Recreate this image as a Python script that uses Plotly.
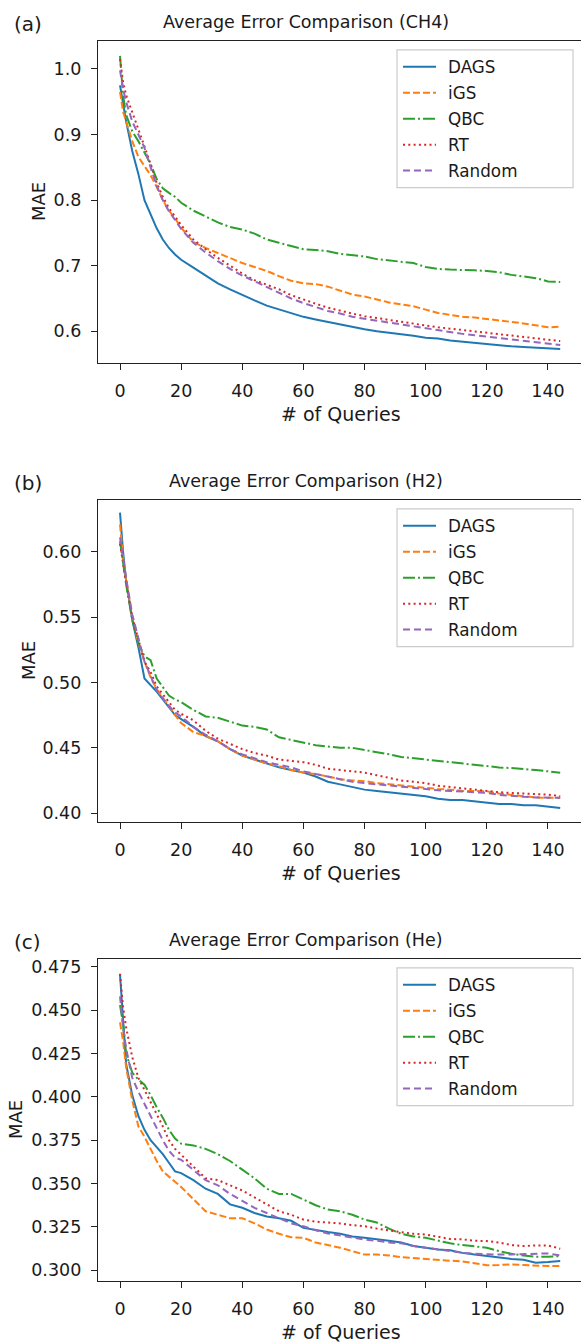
import plotly.graph_objects as go

# Query counts at which the average error was recorded
queries = [0, 1, 2, 4, 6, 8, 10, 12, 14, 16, 18, 20, 24, 28, 32, 36, 40, 44, 48, 52,
           56, 60, 64, 68, 72, 76, 80, 84, 88, 92, 96, 100, 104, 108, 112, 116, 120,
           124, 128, 132, 136, 140, 144]

methods = ["DAGS", "iGS", "QBC", "RT", "Random"]

# ---- CH4 ----
ch4_dags = [0.975, 0.945, 0.920, 0.875, 0.840, 0.800, 0.778, 0.757, 0.740, 0.727, 0.717,
            0.709, 0.697, 0.685, 0.673, 0.664, 0.655, 0.647, 0.639, 0.633, 0.627, 0.622,
            0.618, 0.614, 0.610, 0.607, 0.603, 0.600, 0.598, 0.595, 0.593, 0.590, 0.589,
            0.586, 0.584, 0.582, 0.581, 0.579, 0.577, 0.576, 0.575, 0.574, 0.573]
ch4_igs = [0.965, 0.935, 0.920, 0.890, 0.866, 0.852, 0.838, 0.820, 0.800, 0.784, 0.772,
           0.758, 0.736, 0.727, 0.719, 0.711, 0.704, 0.698, 0.692, 0.684, 0.677, 0.673,
           0.672, 0.668, 0.662, 0.656, 0.653, 0.648, 0.644, 0.641, 0.638, 0.633, 0.628,
           0.625, 0.622, 0.621, 0.619, 0.617, 0.615, 0.612, 0.609, 0.606, 0.607]
ch4_qbc = [1.020, 0.960, 0.930, 0.905, 0.890, 0.873, 0.855, 0.832, 0.818, 0.811, 0.805,
           0.796, 0.784, 0.775, 0.766, 0.759, 0.755, 0.749, 0.740, 0.735, 0.730, 0.725,
           0.724, 0.722, 0.718, 0.716, 0.714, 0.710, 0.708, 0.707, 0.704, 0.698, 0.695,
           0.694, 0.694, 0.693, 0.692, 0.690, 0.686, 0.683, 0.681, 0.676, 0.675]
ch4_rt = [1.015, 0.980, 0.960, 0.935, 0.910, 0.882, 0.855, 0.826, 0.805, 0.788, 0.775,
          0.762, 0.740, 0.725, 0.712, 0.700, 0.688, 0.678, 0.671, 0.664, 0.655, 0.648,
          0.642, 0.636, 0.631, 0.627, 0.623, 0.620, 0.617, 0.614, 0.611, 0.609, 0.606,
          0.604, 0.602, 0.600, 0.598, 0.596, 0.593, 0.591, 0.589, 0.587, 0.585]
ch4_random = [0.998, 0.970, 0.950, 0.920, 0.900, 0.880, 0.850, 0.822, 0.800, 0.783, 0.770,
              0.756, 0.735, 0.720, 0.707, 0.695, 0.685, 0.676, 0.667, 0.659, 0.650, 0.643,
              0.637, 0.631, 0.627, 0.622, 0.619, 0.616, 0.613, 0.610, 0.607, 0.604, 0.601,
              0.598, 0.596, 0.594, 0.592, 0.590, 0.588, 0.586, 0.584, 0.582, 0.579]

# ---- H2 ----
h2_dags = [0.630, 0.600, 0.578, 0.548, 0.527, 0.503, 0.498, 0.493, 0.487, 0.481, 0.475,
           0.472, 0.466, 0.459, 0.455, 0.449, 0.444, 0.441, 0.438, 0.435, 0.433, 0.431,
           0.428, 0.424, 0.422, 0.420, 0.418, 0.417, 0.416, 0.415, 0.414, 0.413, 0.411,
           0.410, 0.410, 0.409, 0.408, 0.407, 0.407, 0.406, 0.406, 0.405, 0.404]
h2_igs = [0.621, 0.595, 0.578, 0.550, 0.530, 0.516, 0.504, 0.495, 0.488, 0.482, 0.475,
          0.469, 0.462, 0.459, 0.455, 0.449, 0.444, 0.441, 0.438, 0.436, 0.433, 0.431,
          0.430, 0.428, 0.426, 0.425, 0.4245, 0.423, 0.422, 0.421, 0.420, 0.419, 0.4185,
          0.418, 0.417, 0.417, 0.4167, 0.415, 0.414, 0.413, 0.412, 0.4117, 0.4117]
h2_qbc = [0.608, 0.590, 0.575, 0.548, 0.530, 0.520, 0.517, 0.503, 0.496, 0.490, 0.487,
          0.485, 0.479, 0.474, 0.473, 0.470, 0.467, 0.466, 0.464, 0.458, 0.456, 0.4535,
          0.452, 0.451, 0.450, 0.450, 0.4485, 0.447, 0.445, 0.443, 0.442, 0.441, 0.440,
          0.439, 0.438, 0.437, 0.4358, 0.435, 0.4345, 0.434, 0.433, 0.432, 0.431]
h2_rt = [0.606, 0.590, 0.577, 0.550, 0.532, 0.516, 0.508, 0.497, 0.491, 0.485, 0.479,
         0.476, 0.471, 0.463, 0.457, 0.453, 0.449, 0.446, 0.444, 0.441, 0.440, 0.439,
         0.437, 0.434, 0.433, 0.432, 0.431, 0.429, 0.427, 0.425, 0.424, 0.423, 0.421,
         0.420, 0.419, 0.418, 0.4167, 0.416, 0.4155, 0.415, 0.4145, 0.4142, 0.413]
h2_random = [0.611, 0.595, 0.580, 0.552, 0.534, 0.516, 0.505, 0.494, 0.488, 0.482, 0.477,
             0.474, 0.466, 0.460, 0.455, 0.449, 0.445, 0.442, 0.439, 0.437, 0.435, 0.432,
             0.430, 0.428, 0.426, 0.424, 0.423, 0.422, 0.421, 0.4205, 0.419, 0.418, 0.4175,
             0.417, 0.4165, 0.416, 0.4155, 0.414, 0.413, 0.4125, 0.412, 0.4117, 0.4117]

# ---- He ----
he_dags = [0.4706, 0.442, 0.419, 0.401, 0.389, 0.381, 0.375, 0.371, 0.367, 0.362, 0.357,
           0.356, 0.352, 0.347, 0.344, 0.338, 0.336, 0.333, 0.331, 0.330, 0.3285, 0.3244,
           0.323, 0.322, 0.321, 0.3195, 0.3187, 0.318, 0.317, 0.316, 0.314, 0.313, 0.312,
           0.3115, 0.310, 0.309, 0.3081, 0.307, 0.3065, 0.306, 0.3043, 0.3047, 0.3053]
he_igs = [0.443, 0.432, 0.417, 0.398, 0.383, 0.377, 0.370, 0.363, 0.357, 0.354, 0.351,
          0.348, 0.341, 0.334, 0.332, 0.330, 0.330, 0.327, 0.3235, 0.321, 0.319, 0.3187,
          0.316, 0.3145, 0.313, 0.311, 0.309, 0.309, 0.3085, 0.3075, 0.307, 0.3062, 0.306,
          0.3055, 0.305, 0.304, 0.3028, 0.303, 0.3034, 0.303, 0.3025, 0.3024, 0.3024]
he_qbc = [0.453, 0.442, 0.425, 0.414, 0.410, 0.407, 0.401, 0.394, 0.388, 0.381, 0.376,
          0.373, 0.372, 0.370, 0.367, 0.363, 0.358, 0.353, 0.347, 0.344, 0.344, 0.3407,
          0.3375, 0.335, 0.334, 0.332, 0.3292, 0.3275, 0.324, 0.321, 0.3195, 0.3187, 0.317,
          0.3155, 0.3145, 0.3139, 0.313, 0.311, 0.3095, 0.3085, 0.3078, 0.3078, 0.3081]
he_rt = [0.471, 0.452, 0.440, 0.423, 0.411, 0.404, 0.397, 0.390, 0.383, 0.375, 0.370,
         0.3666, 0.360, 0.353, 0.352, 0.349, 0.346, 0.342, 0.338, 0.334, 0.332, 0.3292,
         0.328, 0.3275, 0.327, 0.326, 0.3254, 0.324, 0.323, 0.322, 0.321, 0.3206, 0.3195,
         0.318, 0.3178, 0.317, 0.3168, 0.316, 0.3145, 0.3139, 0.3143, 0.3143, 0.3124]
he_random = [0.458, 0.440, 0.428, 0.411, 0.403, 0.396, 0.389, 0.382, 0.375, 0.369, 0.365,
             0.3637, 0.358, 0.352, 0.349, 0.344, 0.340, 0.336, 0.333, 0.330, 0.327, 0.3254,
             0.323, 0.3212, 0.320, 0.3185, 0.3177, 0.317, 0.316, 0.3155, 0.314, 0.313, 0.312,
             0.3112, 0.310, 0.3095, 0.3091, 0.309, 0.3091, 0.3093, 0.3095, 0.3097, 0.3085]

panels = [
    ("(a)", "Average Error Comparison (CH4)", [ch4_dags, ch4_igs, ch4_qbc, ch4_rt, ch4_random]),
    ("(b)", "Average Error Comparison (H2)", [h2_dags, h2_igs, h2_qbc, h2_rt, h2_random]),
    ("(c)", "Average Error Comparison (He)", [he_dags, he_igs, he_qbc, he_rt, he_random]),
]

# ---- styling ----
W, H = 581, 1343
FONT = "DejaVu Sans"
colors = ["#1f77b4", "#ff7f0e", "#2ca02c", "#d62728", "#9467bd"]
dashes = ["solid", "7px,3px", "12px,3px,2px,3px", "2px,3.3px", "7px,4px"]

# pixel boxes of each axes: (top, bottom)
ax_px = [(39, 362), (499, 822), (959, 1282)]
ax_left, ax_right = 98, 581
y_ranges = [[0.5513, 1.0428], [0.3931, 0.6397], [0.2937, 0.4796]]
y_ticks = [[0.6, 0.7, 0.8, 0.9, 1.0],
           [0.40, 0.45, 0.50, 0.55, 0.60],
           [0.300, 0.325, 0.350, 0.375, 0.400, 0.425, 0.450, 0.475]]
y_fmt = [".1f", ".2f", ".3f"]
ylabel_x = [38, 28, 16]


def px(x):
    return x / W


def py(y):
    return 1 - y / H


fig = go.Figure()
layout = dict(width=W, height=H, margin=dict(l=0, r=0, t=0, b=0),
              paper_bgcolor="white", plot_bgcolor="white", showlegend=False,
              font=dict(family=FONT, color="#1a1a1a"))
annotations = []
shapes = []

for i, (tag, title, series) in enumerate(panels):
    n = "" if i == 0 else str(i + 1)
    top, bot = ax_px[i]
    for name, vals, c, d in zip(methods, series, colors, dashes):
        fig.add_trace(go.Scatter(x=queries, y=vals, mode="lines", name=name,
                                 line=dict(color=c, width=2, dash=d),
                                 xaxis="x" + n, yaxis="y" + n))
    layout["xaxis" + n] = dict(domain=[px(ax_left), px(ax_right)], range=[-7.2, 150.8],
                               anchor="y" + n, tickvals=list(range(0, 141, 20)),
                               showgrid=False, zeroline=False, showline=True, mirror=True,
                               linecolor="#222", linewidth=1.3, ticks="outside", ticklen=6,
                               tickwidth=1.2, tickcolor="#222", ticklabelstandoff=6,
                               tickfont=dict(size=17.5, family=FONT, color="#1a1a1a"))
    layout["yaxis" + n] = dict(domain=[py(bot), py(top)], range=y_ranges[i],
                               anchor="x" + n, tickvals=y_ticks[i], tickformat=y_fmt[i],
                               showgrid=False, zeroline=False, showline=True, mirror=False,
                               linecolor="#222", linewidth=1.3, ticks="outside", ticklen=6,
                               tickwidth=1.2, tickcolor="#222", ticklabelstandoff=6,
                               tickfont=dict(size=17.5, family=FONT, color="#1a1a1a"))
    # titles and labels
    annotations.append(dict(text=title, x=px(306), y=py(top - 19), xref="paper", yref="paper",
                            xanchor="center", yanchor="middle", showarrow=False,
                            font=dict(size=17.5, family=FONT, color="#1a1a1a")))
    annotations.append(dict(text=tag, x=px(12), y=py(top - 17), xref="paper", yref="paper",
                            xanchor="left", yanchor="middle", showarrow=False,
                            font=dict(size=20, family=FONT, color="#1a1a1a")))
    annotations.append(dict(text="# of Queries", x=px(341), y=py(bot + 51), xref="paper",
                            yref="paper", xanchor="center", yanchor="middle", showarrow=False,
                            font=dict(size=19, family=FONT, color="#1a1a1a")))
    annotations.append(dict(text="MAE", x=px(ylabel_x[i]), y=py((top + bot) / 2),
                            xref="paper", yref="paper", xanchor="center", yanchor="middle",
                            textangle=-90, showarrow=False,
                            font=dict(size=18, family=FONT, color="#1a1a1a")))
    # legend box
    lx0, lx1 = 397, 573
    ly0, ly1 = top + 9, top + 147
    shapes.append(dict(type="rect", xref="paper", yref="paper", x0=px(lx0), x1=px(lx1),
                       y0=py(ly1), y1=py(ly0), line=dict(color="#cccccc", width=1.2),
                       fillcolor="rgba(255,255,255,0.8)", layer="above"))
    for k, (name, c, d) in enumerate(zip(methods, colors, dashes)):
        yy = top + 26 + 26 * k
        shapes.append(dict(type="line", xref="paper", yref="paper", x0=px(403), x1=px(436),
                           y0=py(yy), y1=py(yy), line=dict(color=c, width=2, dash=d),
                           layer="above"))
        annotations.append(dict(text=name, x=px(446), y=py(yy), xref="paper", yref="paper",
                                xanchor="left", yanchor="middle", showarrow=False,
                                font=dict(size=16.8, family=FONT, color="#1a1a1a")))

layout["annotations"] = annotations
layout["shapes"] = shapes
fig.update_layout(**layout)
fig.write_html("out.html")
